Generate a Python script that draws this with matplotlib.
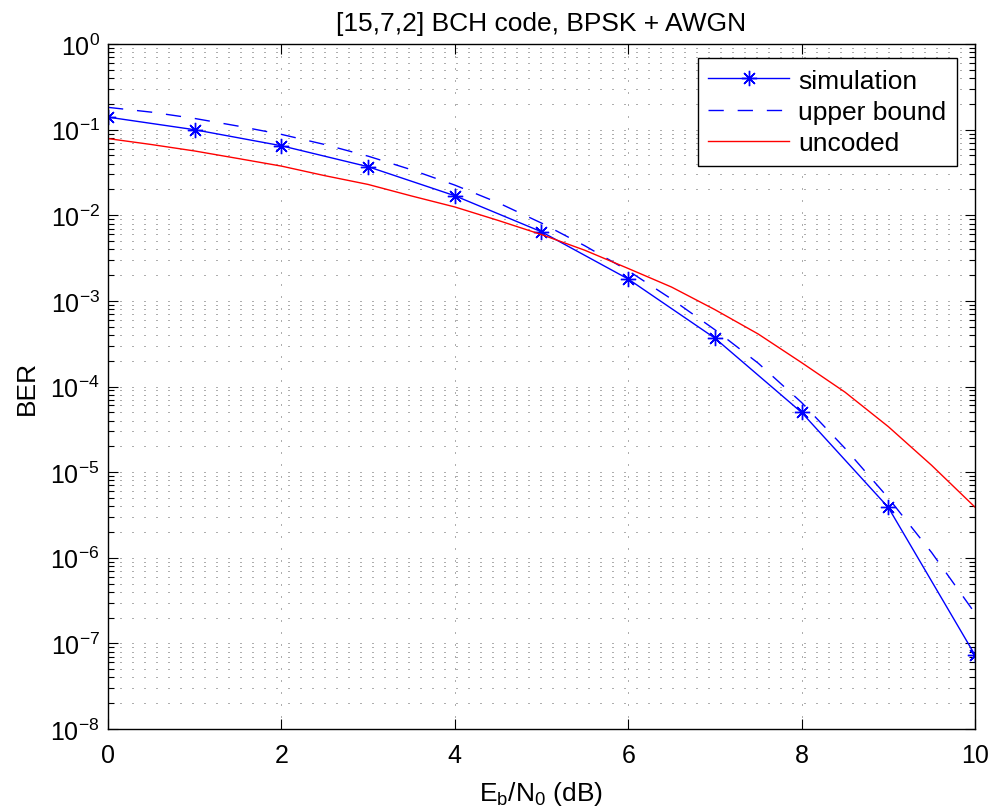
import numpy as np
import matplotlib
matplotlib.use("Agg")
import matplotlib.pyplot as plt

plt.rcParams['font.family'] = ['Liberation Sans', 'DejaVu Sans']
plt.rcParams['mathtext.fontset'] = 'custom'
plt.rcParams['mathtext.rm'] = 'Liberation Sans'
plt.rcParams['mathtext.it'] = 'Liberation Sans:italic'
plt.rcParams['mathtext.bf'] = 'Liberation Sans:bold'

# ============================================================================
# DATA
# ============================================================================
# simulated points (integer Eb/N0)
ebn0_sim = [0, 1, 2, 3, 4, 5, 6, 7, 8, 9, 10]
ber_sim = [0.140, 0.0997, 0.0648, 0.0369, 0.0169, 0.00641, 0.00180,
           3.67e-4, 4.98e-5, 3.87e-6, 7.3e-8]

# analytic curves, read every 0.5 dB
ebn0_curve = [0, 0.5, 1, 1.5, 2, 2.5, 3, 3.5, 4, 4.5, 5,
              5.5, 6, 6.5, 7, 7.5, 8, 8.5, 9, 9.5, 10]
ber_bound = [0.182, 0.160, 0.135, 0.110, 0.088, 0.067, 0.049, 0.034,
             0.0225, 0.0140, 0.0081, 0.0044, 0.00225, 1.05e-3, 4.6e-4,
             1.87e-4, 6.5e-5, 1.9e-5, 5.0e-6, 1.15e-6, 2.25e-7]
ber_uncoded = [0.0786, 0.067, 0.0563, 0.046, 0.0375, 0.029, 0.0229,
               0.0168, 0.0125, 0.0087, 0.00595, 0.0039, 0.00239, 1.45e-3,
               7.9e-4, 4.1e-4, 1.9e-4, 8.6e-5, 3.4e-5, 1.2e-5, 3.9e-6]

x_ticks = [0, 2, 4, 6, 8, 10]
y_decades = [0, -1, -2, -3, -4, -5, -6, -7, -8]

# ============================================================================
# PLOT
# ============================================================================
fig = plt.figure(figsize=(9.95, 8.12), dpi=100)
ax = fig.add_axes([108/995, 1 - 730/812, 867/995, 685/812])

asterisk = (8, 2, 0)
ax.semilogy(ebn0_sim, ber_sim, color='b', lw=1.0, marker=asterisk,
            markersize=11, markeredgewidth=1.0, label='simulation')
ax.semilogy(ebn0_curve, ber_bound, color='b', lw=1.0, linestyle=(0, (11, 10)),
            label='upper bound')
ax.semilogy(ebn0_curve, ber_uncoded, color='r', lw=1.0, label='uncoded')

ax.set_xlim(0, 10)
ax.set_ylim(1e-8, 1e0)
ax.set_xticks(x_ticks)
major_y = [10.0 ** d for d in y_decades]
minor_y = [m * 10.0 ** d for d in y_decades[1:] for m in range(2, 10)]
ax.set_yticks(major_y)
ax.set_yticklabels([r'$10^{%d}$' % d for d in y_decades])
ax.set_yticks(minor_y, minor=True)
ax.set_yticklabels([], minor=True)

ax.tick_params(which='both', direction='in', top=True, right=True,
               labelsize=18, width=0.8, color='k')
ax.tick_params(which='major', length=7)
ax.tick_params(which='minor', length=4)
ax.tick_params(axis='x', pad=10)
ax.tick_params(axis='y', pad=6)
for s in ax.spines.values():
    s.set_linewidth(1.0)

dot = (0, (1.2, 13.2))
ax.grid(True, which='major', axis='both', color='0.25', lw=0.6, linestyle=dot)
ax.grid(True, which='minor', axis='y', color='0.25', lw=0.6, linestyle=dot)
ax.set_axisbelow(True)

ax.set_title('[15,7,2] BCH code, BPSK + AWGN', fontsize=19, pad=10)
ax.set_xlabel(r'E$_\mathrm{b}$/N$_\mathrm{0}$ (dB)', fontsize=19, labelpad=9)
ax.set_ylabel('BER', fontsize=19, labelpad=8)

leg = ax.legend(loc='upper right', bbox_to_anchor=(0.979, 0.9796),
                borderaxespad=0, fontsize=19, handlelength=3.05,
                handletextpad=0.35, labelspacing=0.28, borderpad=0.4,
                fancybox=False, framealpha=1, edgecolor='k')
leg.get_frame().set_linewidth(1.0)

fig.savefig('out.png', dpi=100)
